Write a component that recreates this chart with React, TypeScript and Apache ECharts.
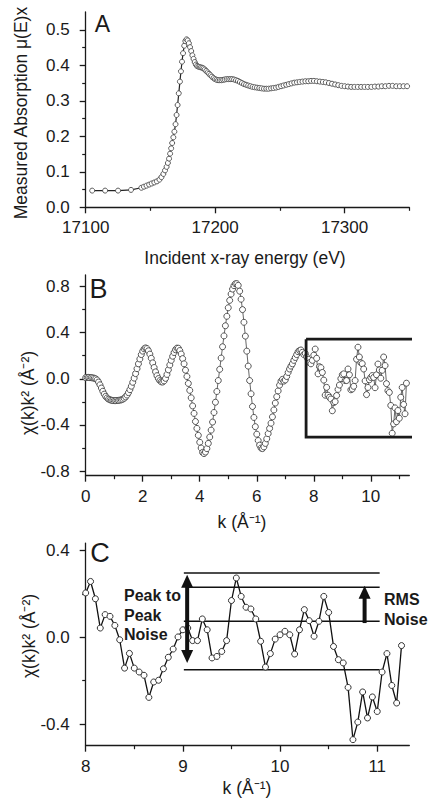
import React, { useEffect, useRef } from "react";
import * as echarts from "echarts";

// ---------- Panel A: XANES / absorption ----------
const energyA = [
  17105, 17115, 17125, 17135,
  17143, 17145, 17147, 17149, 17151, 17153, 17155, 17157,
  17158.5, 17160, 17161.3, 17162.5, 17163.5, 17164.4, 17165.2, 17166, 17166.8, 17167.7,
  17168.5, 17169.4, 17170.2, 17171, 17171.9, 17172.8, 17173.6, 17174.4, 17175.2, 17176.1,
  17177, 17177.9, 17178.8, 17179.7, 17180.6, 17181.5, 17182.4, 17183.3, 17184.2, 17185.1,
  17186, 17187, 17188, 17189, 17190, 17191, 17192, 17193.1, 17194.2, 17195.3,
  17196.4, 17197.5, 17198.7, 17199.9, 17201.1, 17202.3, 17203.6, 17204.9, 17206.2, 17207.5,
  17208.9, 17210.3, 17211.7, 17213.1, 17214.6, 17216.1, 17217.6, 17219.1, 17220.7, 17222.3,
  17223.9, 17225.5, 17227.2, 17228.9, 17230.6, 17232.3, 17234.1, 17235.9, 17237.7, 17239.5,
  17241.3, 17243.2, 17245.1, 17247, 17248.9, 17250.9, 17252.9, 17254.9, 17256.9, 17259,
  17261.1, 17263.2, 17265.3, 17267.5, 17269.7, 17271.9, 17274.1, 17276.3, 17278.6, 17280.9,
  17283.2, 17285.5, 17287.9, 17290.3, 17292.7, 17295.1, 17297.6, 17300.1, 17302.6, 17305.1,
  17307.6, 17310.2, 17312.8, 17315.4, 17318, 17320.7, 17323.4, 17326.1, 17328.8, 17331.5,
  17334.3, 17337.1, 17339.9, 17342.7, 17345.5, 17348.3,
];
const muA = [
  0.047, 0.047, 0.047, 0.049,
  0.055, 0.058, 0.061, 0.064, 0.067, 0.070, 0.073, 0.078,
  0.085, 0.094, 0.104, 0.114, 0.125, 0.137, 0.151, 0.166, 0.181, 0.197,
  0.213, 0.234, 0.260, 0.288, 0.321, 0.354, 0.383, 0.410, 0.434, 0.455,
  0.468, 0.473, 0.470, 0.462, 0.451, 0.440, 0.428, 0.418, 0.409, 0.402,
  0.398, 0.396, 0.395, 0.394, 0.393, 0.391, 0.388, 0.384, 0.380, 0.376,
  0.372, 0.368, 0.364, 0.361, 0.359, 0.358, 0.358, 0.358, 0.359, 0.360,
  0.361, 0.361, 0.361, 0.361, 0.360, 0.358, 0.356, 0.353, 0.350, 0.347,
  0.345, 0.343, 0.341, 0.339, 0.338, 0.337, 0.336, 0.335, 0.334, 0.334,
  0.334, 0.335, 0.336, 0.337, 0.339, 0.341, 0.343, 0.345, 0.347, 0.349,
  0.351, 0.352, 0.353, 0.354, 0.355, 0.355, 0.356, 0.356, 0.355, 0.354,
  0.353, 0.352, 0.350, 0.348, 0.346, 0.344, 0.342, 0.341, 0.340, 0.339,
  0.339, 0.339, 0.339, 0.339, 0.339, 0.339, 0.340, 0.340, 0.341, 0.341,
  0.342, 0.342, 0.341, 0.341, 0.341, 0.341,
];
const aXLabels = [17100, 17200, 17300];
const aXMinor = [17150, 17250, 17350];
const aYLabels = [0, 0.1, 0.2, 0.3, 0.4, 0.5];
const aYMinor = [0.05, 0.15, 0.25, 0.35, 0.45];

// ---------- Panel B / C: chi(k)k^2 on a 0.05 1/A grid ----------
const kStep = 0.05;
// k = 0.00 ... 7.95
const chiLow = [
  0.010, 0.012, 0.012, 0.010, 0.010, 0.008, 0.005, 0.000, -0.010, -0.028,
  -0.052, -0.080, -0.108, -0.133, -0.152, -0.166, -0.176, -0.182, -0.186, -0.188,
  -0.189, -0.189, -0.188, -0.187, -0.185, -0.182, -0.177, -0.169, -0.157, -0.141,
  -0.120, -0.094, -0.064, -0.030, 0.006, 0.045, 0.088, 0.130, 0.172, 0.210,
  0.240, 0.260, 0.268, 0.262, 0.243, 0.214, 0.178, 0.138, 0.098, 0.060,
  0.027, 0.002, -0.016, -0.026, -0.028, -0.018, 0.004, 0.038, 0.078, 0.120,
  0.160, 0.196, 0.228, 0.252, 0.266, 0.265, 0.245, 0.215, 0.175, 0.130,
  0.075, 0.020, -0.040, -0.100, -0.165, -0.235, -0.300, -0.370, -0.430, -0.490,
  -0.550, -0.600, -0.638, -0.648, -0.635, -0.605, -0.560, -0.505, -0.445, -0.375,
  -0.292, -0.203, -0.110, -0.015, 0.082, 0.180, 0.278, 0.372, 0.460, 0.542,
  0.616, 0.680, 0.735, 0.778, 0.808, 0.824, 0.825, 0.810, 0.760, 0.690,
  0.600, 0.490, 0.370, 0.240, 0.110, -0.015, -0.130, -0.240, -0.335, -0.415,
  -0.480, -0.535, -0.575, -0.600, -0.605, -0.590, -0.560, -0.520, -0.475, -0.430,
  -0.385, -0.330, -0.270, -0.210, -0.155, -0.105, -0.055, -0.020, -0.005, -0.020,
  -0.010, 0.020, 0.055, 0.085, 0.110, 0.130, 0.160, 0.185, 0.210, 0.235,
  0.245, 0.250, 0.230, 0.210, 0.220, 0.190, 0.170, 0.140, 0.130, 0.160,
];
// k = 8.00 ... 11.25 (the boxed region, shown enlarged in C)
const chiHigh = [
  0.205, 0.258, 0.178, 0.043, 0.105, 0.097, 0.055, -0.011, -0.142, -0.074,
  -0.142, -0.160, -0.175, -0.277, -0.206, -0.198, -0.145, -0.092, -0.054, 0.002,
  0.035, 0.043, -0.015, -0.015, 0.085, 0.035, -0.095, -0.088, -0.065, -0.015,
  0.170, 0.274, 0.189, 0.139, 0.131, 0.085, -0.018, -0.137, -0.075, -0.008,
  0.012, 0.028, 0.012, -0.077, 0.035, 0.128, 0.077, 0.005, 0.074, 0.189,
  0.115, -0.042, -0.103, -0.118, -0.231, -0.472, -0.391, -0.252, -0.372, -0.275,
  -0.342, -0.160, -0.075, -0.222, -0.303, -0.038,
];
const bXLabels = [0, 2, 4, 6, 8, 10];
const bXMinor = [1, 3, 5, 7, 9, 11];
const bYLabels = [-0.8, -0.4, 0, 0.4, 0.8];
const bYMinor = [-0.6, -0.2, 0.2, 0.6];
const boxK = [7.73, 11.58];
const boxChi = [-0.506, 0.344];

const cXLabels = [8, 9, 10, 11];
const cXMinor = [8.5, 9.5, 10.5];
const cYLabels = [-0.4, 0, 0.4];
const cYMinor = [-0.2, 0.2];
const noiseLevels = [0.297, 0.231, 0.074, -0.149];
const noiseStart = [9.01, 9.055, 9.01, 9.01];
const noiseEnd = 11.025;
const arrowK = [9.044, 10.87];
const arrowFrom = [-0.118, 0.066];
const arrowTo = [0.289, 0.238];
const arrowDouble = [1, 0];

const FONT = '"Liberation Sans", Arial, Helvetica, sans-serif';
const AX = "#1a1a1a";
const TXT = "#1a1a1a";
const TICK_FS = 17;
const TITLE_FS = 17.5;

function xAxes(grid: number, min: number, max: number, majors: number[], minors: number[], fmt: (v: number) => string) {
  return [
    {
      type: "value", gridIndex: grid, min, max, position: "bottom",
      axisLine: { show: true, onZero: false, lineStyle: { color: AX, width: 1.3 } },
      axisTick: { show: true, customValues: majors, length: 6, lineStyle: { color: AX, width: 1.3 } },
      axisLabel: { show: true, customValues: majors, formatter: fmt, margin: 12, fontSize: TICK_FS, color: TXT, fontFamily: FONT },
      splitLine: { show: false },
    },
    {
      type: "value", gridIndex: grid, min, max, position: "bottom",
      axisLine: { show: false, onZero: false },
      axisTick: { show: true, customValues: minors, length: 3.5, lineStyle: { color: AX, width: 1.2 } },
      axisLabel: { show: false },
      splitLine: { show: false },
    },
  ];
}
function yAxes(grid: number, min: number, max: number, majors: number[], minors: number[], fmt: (v: number) => string) {
  return [
    {
      type: "value", gridIndex: grid, min, max, position: "left",
      axisLine: { show: true, onZero: false, lineStyle: { color: AX, width: 1.3 } },
      axisTick: { show: true, customValues: majors, length: 6, lineStyle: { color: AX, width: 1.3 } },
      axisLabel: { show: true, customValues: majors, formatter: fmt, margin: 16, fontSize: TICK_FS, color: TXT, fontFamily: FONT },
      splitLine: { show: false },
    },
    {
      type: "value", gridIndex: grid, min, max, position: "left",
      axisLine: { show: false, onZero: false },
      axisTick: { show: true, customValues: minors, length: 3.5, lineStyle: { color: AX, width: 1.2 } },
      axisLabel: { show: false },
      splitLine: { show: false },
    },
  ];
}

const fmt1 = (v: number) => v.toFixed(1);
const fmtInt = (v: number) => String(Math.round(v));

function txt(text: string, x: number, y: number, size: number, opts: any = {}) {
  return {
    type: "text", x, y, rotation: opts.rotation || 0, silent: true,
    style: {
      text, fontSize: size, fontFamily: FONT, fontWeight: opts.bold ? "bold" : "normal",
      fill: TXT, align: opts.align || "center", verticalAlign: "middle",
    },
  };
}

export default function App() {
  const ref = useRef<HTMLDivElement>(null);
  useEffect(() => {
    if (!ref.current) return;
    const chart = echarts.init(ref.current, undefined, { renderer: "svg" });

    const dataA = energyA.map((e, i) => [e, muA[i]]);
    const chiB = [...chiLow, ...chiHigh];
    const dataB = chiB.map((v, i) => [Math.round(i * kStep * 100) / 100, v]);
    const dataC = chiHigh.map((v, i) => [Math.round((8 + i * kStep) * 100) / 100, v]);
    const boxData = [
      [boxK[0], boxChi[1]], [boxK[1], boxChi[1]], [boxK[1], boxChi[0]],
      [boxK[0], boxChi[0]], [boxK[0], boxChi[1]],
    ];

    const noiseSeries = noiseLevels.map((lvl, i) => ({
      type: "line", xAxisIndex: 4, yAxisIndex: 4, silent: true, clip: false, z: 3,
      data: [[noiseStart[i], lvl], [noiseEnd, lvl]], symbol: "none",
      lineStyle: { color: "#111", width: 1.5 },
    }));

    const arrowData = arrowK.map((k, i) => [k, arrowFrom[i], arrowTo[i], arrowDouble[i]]);

    const option: any = {
      animation: false,
      backgroundColor: "#fff",
      grid: [
        { left: 85.7, top: 12, width: 323.6, height: 195.3 },
        { left: 85.7, top: 275, width: 323.6, height: 200.7 },
        { left: 85.7, top: 543.1, width: 323.6, height: 202.6 },
      ],
      xAxis: [
        ...xAxes(0, 17100, 17350, aXLabels, aXMinor, fmtInt),
        ...xAxes(1, 0, 11.35, bXLabels, bXMinor, fmtInt),
        ...xAxes(2, 8, 11.33, cXLabels, cXMinor, fmtInt),
      ],
      yAxis: [
        ...yAxes(0, 0, 0.55, aYLabels, aYMinor, fmt1),
        ...yAxes(1, -0.84, 0.9, bYLabels, bYMinor, fmt1),
        ...yAxes(2, -0.5, 0.435, cYLabels, cYMinor, fmt1),
      ],
      series: [
        {
          type: "line", xAxisIndex: 0, yAxisIndex: 0, data: dataA,
          symbol: "circle", symbolSize: 5, showSymbol: true,
          lineStyle: { color: "#222", width: 1.2 },
          itemStyle: { color: "#fff", borderColor: "#4a4a4a", borderWidth: 0.9 },
        },
        {
          type: "line", xAxisIndex: 2, yAxisIndex: 2, data: dataB,
          symbol: "circle", symbolSize: 6, showSymbol: true,
          lineStyle: { color: "#555", width: 0.9 },
          itemStyle: { color: "#fff", borderColor: "#444", borderWidth: 0.9 },
        },
        {
          type: "line", xAxisIndex: 2, yAxisIndex: 2, data: boxData, clip: false, z: 4,
          symbol: "none", silent: true,
          lineStyle: { color: "#1a1a1a", width: 2.8, join: "miter" },
        },
        ...noiseSeries,
        {
          type: "line", xAxisIndex: 4, yAxisIndex: 4, data: dataC, z: 4,
          symbol: "circle", symbolSize: 6, showSymbol: true,
          lineStyle: { color: "#111", width: 1.3 },
          itemStyle: { color: "#fff", borderColor: "#333", borderWidth: 1 },
        },
        {
          type: "custom", xAxisIndex: 4, yAxisIndex: 4, data: arrowData, clip: false, z: 5, silent: true,
          renderItem: (_p: any, api: any) => {
            const k = api.value(0), y0 = api.value(1), y1 = api.value(2), dbl = api.value(3);
            const a = api.coord([k, y0]);
            const b = api.coord([k, y1]);
            const x = a[0], top = b[1], bot = a[1];
            const H = 13, W = 12, S = 4;
            const shaftTop = top + H - 1;
            const shaftBot = dbl ? bot - H + 1 : bot;
            const children: any[] = [
              { type: "rect", shape: { x: x - S / 2, y: shaftTop, width: S, height: shaftBot - shaftTop }, style: { fill: "#111" } },
              { type: "polygon", shape: { points: [[x, top], [x - W / 2, top + H], [x + W / 2, top + H]] }, style: { fill: "#111" } },
            ];
            if (dbl) {
              children.push({ type: "polygon", shape: { points: [[x, bot], [x - W / 2, bot - H], [x + W / 2, bot - H]] }, style: { fill: "#111" } });
            }
            return { type: "group", children };
          },
        },
      ],
      graphic: {
        elements: [
          txt("A", 102.5, 23.5, 23),
          txt("B", 98.5, 289, 27),
          txt("C", 100, 553, 27),
          txt("Measured Absorption \u03bc(E)x", 21, 113, TITLE_FS, { rotation: Math.PI / 2 }),
          txt("Incident x-ray energy (eV)", 245, 258, TITLE_FS),
          txt("\u03c7(k)k\u00b2 (\u00c5\u207b\u00b2)", 28, 393, TITLE_FS, { rotation: Math.PI / 2 }),
          txt("k (\u00c5\u207b\u00b9)", 242, 522, TITLE_FS),
          txt("\u03c7(k)k\u00b2 (\u00c5\u207b\u00b2)", 29, 636, TITLE_FS, { rotation: Math.PI / 2 }),
          txt("k (\u00c5\u207b\u00b9)", 247, 788, TITLE_FS),
          txt("Peak to", 124, 595, 16, { bold: true, align: "left" }),
          txt("Peak", 124, 615, 16, { bold: true, align: "left" }),
          txt("Noise", 124, 634, 16, { bold: true, align: "left" }),
          txt("RMS", 384, 599, 16, { bold: true, align: "left" }),
          txt("Noise", 384, 619, 16, { bold: true, align: "left" }),
        ],
      },
    };
    chart.setOption(option);
    return () => chart.dispose();
  }, []);
  return (
    <div
      ref={ref}
      style={{ position: "absolute", left: 0, top: 0, width: 429, height: 805, background: "#fff" }}
    />
  );
}
